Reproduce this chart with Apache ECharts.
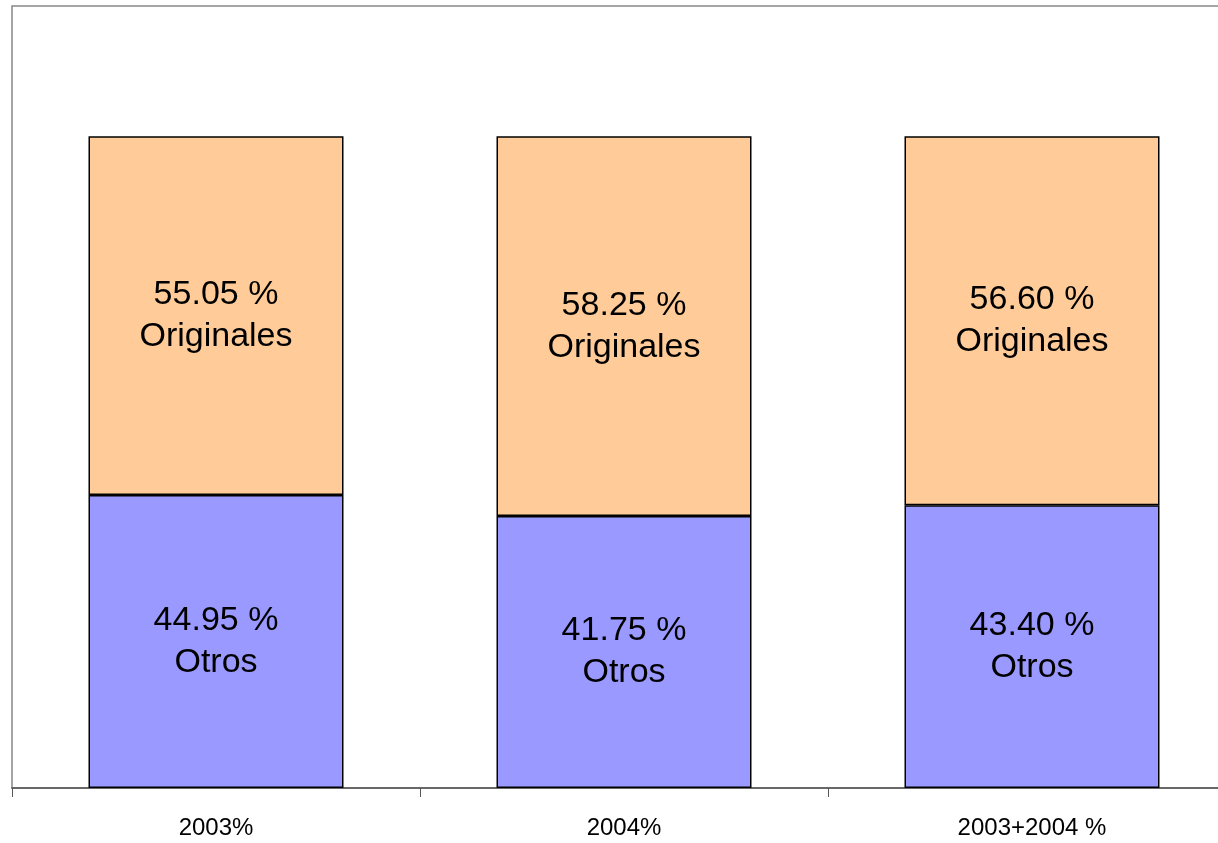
<!DOCTYPE html>
<html>
<head>
<meta charset="utf-8">
<style>
  html, body { margin: 0; padding: 0; background: #fff; overflow: hidden; }
  #chart { width: 1238px; height: 843px; }
</style>
<script src="https://cdn.jsdelivr.net/npm/echarts@6/dist/echarts.min.js"></script>
</head>
<body>
<div id="chart"></div>
<script>
// categorías y valores
var categorias = ['2003%', '2004%', '2003+2004 %'];
var otros = [44.95, 41.75, 43.40];
var originales = [55.05, 58.25, 56.60];

// el gráfico original está recortado a la derecha: el div es más ancho que la ventana
var chart = echarts.init(document.getElementById('chart'));

function etiqueta(nombre) {
    return {
        show: true,
        position: 'inside',
        fontFamily: 'Liberation Sans, Arial, sans-serif',
        fontSize: 34,
        lineHeight: 42,
        color: '#000',
        formatter: function (p) {
            return p.value.toFixed(2) + ' %\n' + nombre;
        }
    };
}

var option = {
    animation: false,
    grid: {
        left: 12,
        right: 2,
        top: 6,
        bottom: 55,
        show: true,
        borderColor: '#888',
        borderWidth: 1.5
    },
    xAxis: {
        type: 'category',
        data: categorias,
        axisLine: { lineStyle: { color: '#555', width: 1.5 } },
        axisTick: { show: true, length: 9, lineStyle: { color: '#555' } },
        axisLabel: {
            color: '#000',
            fontFamily: 'Liberation Sans, Arial, sans-serif',
            fontSize: 24,
            margin: 28
        }
    },
    yAxis: {
        type: 'value',
        min: 0,
        max: 120,
        show: false,
        splitLine: { show: false }
    },
    series: [
        {
            name: 'Otros',
            type: 'bar',
            stack: 'total',
            barWidth: '62.5%',
            data: otros,
            itemStyle: { color: '#9999FF', borderColor: '#000', borderWidth: 1.5 },
            label: etiqueta('Otros')
        },
        {
            name: 'Originales',
            type: 'bar',
            stack: 'total',
            barWidth: '62.5%',
            data: originales,
            itemStyle: { color: '#FFCC99', borderColor: '#000', borderWidth: 1.5 },
            label: etiqueta('Originales')
        }
    ]
};

chart.setOption(option);
</script>
</body>
</html>
